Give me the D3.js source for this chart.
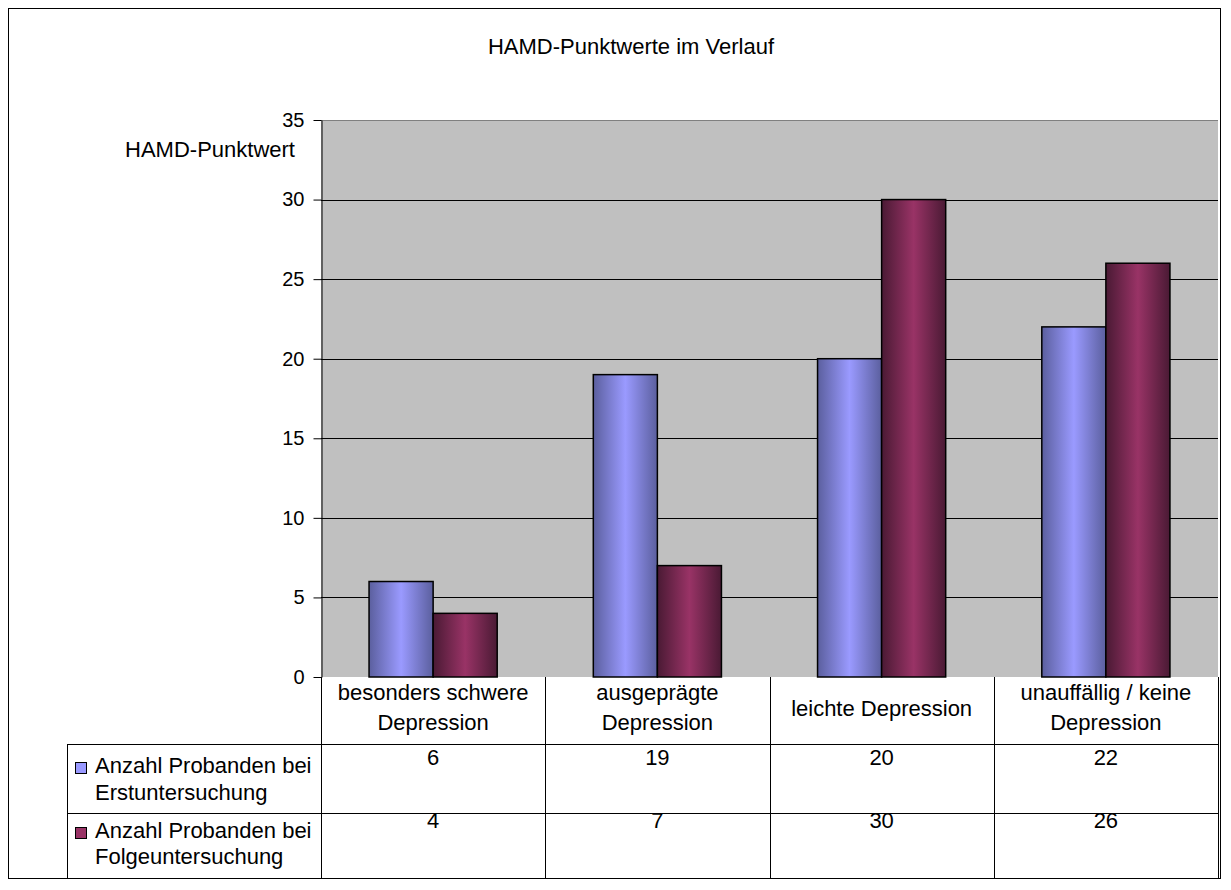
<!DOCTYPE html>
<html>
<head>
<meta charset="utf-8">
<script src="https://cdn.jsdelivr.net/npm/d3@7"></script>
<style>
  html, body { margin: 0; padding: 0; background: #fff; }
  svg { display: block; font-family: Arial, "Liberation Sans", sans-serif; }
</style>
</head>
<body>
<svg id="chart" width="1231" height="890"></svg>
<script>
// HAMD scores: number of subjects per severity category at first and follow-up examination
const categories = [
  ["besonders schwere", "Depression"],
  ["ausgeprägte", "Depression"],
  ["leichte Depression"],
  ["unauffällig / keine", "Depression"]
];
const seriesNames = [
  ["Anzahl Probanden bei", "Erstuntersuchung"],
  ["Anzahl Probanden bei", "Folgeuntersuchung"]
];
const firstExam = [6, 19, 20, 22];
const followUp = [4, 7, 30, 26];
const yTicks = [0, 5, 10, 15, 20, 25, 30, 35];

const chartTitle = "HAMD-Punktwerte im Verlauf";
const yTitle = "HAMD-Punktwert";

const series = [firstExam, followUp];
const seriesColors = [
  { edge: "#5b5f9e", mid: "#9a9aff", key: "#9999ff" },
  { edge: "#4a1a34", mid: "#993366", key: "#993366" }
];

const FS = 22;        // text size
const TICK_FS = 20;   // axis tick label size

const svg = d3.select("#chart");

// Layout
const plot = { left: 321, right: 1218, top: 120, bottom: 677 };
const table = { left: 67, catBottom: 744, row1Bottom: 813, bottom: 878 };

// Outer frame
svg.append("rect")
  .attr("x", 8.5).attr("y", 8.5)
  .attr("width", 1212).attr("height", 870)
  .attr("fill", "#fff").attr("stroke", "#000").attr("stroke-width", 1);

// Gradients
const defs = svg.append("defs");
seriesColors.forEach((c, i) => {
  const g = defs.append("linearGradient").attr("id", "grad" + i)
    .attr("x1", "0%").attr("x2", "100%").attr("y1", "0%").attr("y2", "0%");
  g.append("stop").attr("offset", "0%").attr("stop-color", c.edge);
  g.append("stop").attr("offset", "50%").attr("stop-color", c.mid);
  g.append("stop").attr("offset", "100%").attr("stop-color", c.edge);
});

// Scales
const x = d3.scaleBand()
  .domain(d3.range(categories.length))
  .range([plot.left, plot.right])
  .paddingInner(0).paddingOuter(0);
const x1 = d3.scaleBand()
  .domain(d3.range(series.length))
  .range([0, x.bandwidth()])
  .paddingOuter(0.75).paddingInner(0);
const y = d3.scaleLinear().domain([0, 35]).range([plot.bottom, plot.top]);

// Plot background
svg.append("rect")
  .attr("x", plot.left).attr("y", plot.top)
  .attr("width", plot.right - plot.left).attr("height", plot.bottom - plot.top)
  .attr("fill", "#c0c0c0");

// Gridlines
svg.append("g").selectAll("line")
  .data(yTicks.filter(t => t > 0))
  .join("line")
  .attr("x1", plot.left).attr("x2", plot.right)
  .attr("y1", d => Math.round(y(d)) + 0.5).attr("y2", d => Math.round(y(d)) + 0.5)
  .attr("stroke", d => d === 35 ? "#808080" : "#000")
  .attr("stroke-width", 1);

// Bars
series.forEach((vals, si) => {
  svg.append("g").selectAll("rect")
    .data(vals)
    .join("rect")
    .attr("x", (d, i) => x(i) + x1(si))
    .attr("y", d => y(d))
    .attr("width", x1.bandwidth())
    .attr("height", d => y(0) - y(d))
    .attr("fill", `url(#grad${si})`)
    .attr("stroke", "#000")
    .attr("stroke-width", 1.5);
});

// Y axis
const yAxis = d3.axisLeft(y).tickValues(yTicks).tickSize(8).tickPadding(9).tickSizeOuter(0);
const yG = svg.append("g")
  .attr("transform", `translate(${plot.left + 0.5},0)`)
  .call(yAxis);
yG.select(".domain").attr("stroke", "#000");
yG.selectAll(".tick line").attr("stroke", "#000");
yG.selectAll(".tick text")
  .attr("font-size", TICK_FS).attr("fill", "#000")
  .attr("font-family", "Arial, 'Liberation Sans', sans-serif");

// Axis title
svg.append("text")
  .attr("x", 210).attr("y", 157)
  .attr("text-anchor", "middle")
  .attr("font-size", FS)
  .text(yTitle);

// Chart title
svg.append("text")
  .attr("x", 631).attr("y", 54)
  .attr("text-anchor", "middle")
  .attr("font-size", FS)
  .text(chartTitle);

// Data table
const tg = svg.append("g");
const lineAttrs = sel => sel.attr("stroke", "#000").attr("stroke-width", 1).attr("shape-rendering", "crispEdges");

// Horizontal rules
[table.catBottom, table.row1Bottom, table.bottom].forEach(yy => {
  tg.append("line").attr("x1", table.left).attr("x2", plot.right)
    .attr("y1", yy + 0.5).attr("y2", yy + 0.5).call(lineAttrs);
});
// Vertical rules
tg.append("line").attr("x1", table.left + 0.5).attr("x2", table.left + 0.5)
  .attr("y1", table.catBottom).attr("y2", table.bottom).call(lineAttrs);
d3.range(categories.length + 1).forEach(i => {
  const xx = i < categories.length ? x(i) : plot.right;
  tg.append("line").attr("x1", Math.round(xx) + 0.5).attr("x2", Math.round(xx) + 0.5)
    .attr("y1", plot.bottom).attr("y2", table.bottom).call(lineAttrs);
});

// Category labels
categories.forEach((lines, i) => {
  const cx = x(i) + x.bandwidth() / 2;
  const t = tg.append("text").attr("text-anchor", "middle").attr("font-size", FS);
  const startY = lines.length === 2 ? 700 : 716;
  lines.forEach((ln, k) => {
    t.append("tspan").attr("x", cx).attr("y", startY + k * 30).text(ln);
  });
});

// Series rows: legend key, name, values
const nameBaselines = [[773, 800], [838, 864]];
const valueBaselines = [765, 828];
series.forEach((vals, si) => {
  tg.append("rect")
    .attr("x", 75.5).attr("y", nameBaselines[si][0] - 10.5)
    .attr("width", 11).attr("height", 11)
    .attr("fill", seriesColors[si].key)
    .attr("stroke", "#000").attr("stroke-width", 1);
  const t = tg.append("text").attr("font-size", FS);
  seriesNames[si].forEach((ln, k) => {
    t.append("tspan").attr("x", 95).attr("y", nameBaselines[si][k]).text(ln);
  });
  tg.selectAll(null).data(vals).join("text")
    .attr("x", (d, i) => x(i) + x.bandwidth() / 2)
    .attr("y", valueBaselines[si])
    .attr("text-anchor", "middle")
    .attr("font-size", FS)
    .text(d => d);
});
</script>
</body>
</html>
